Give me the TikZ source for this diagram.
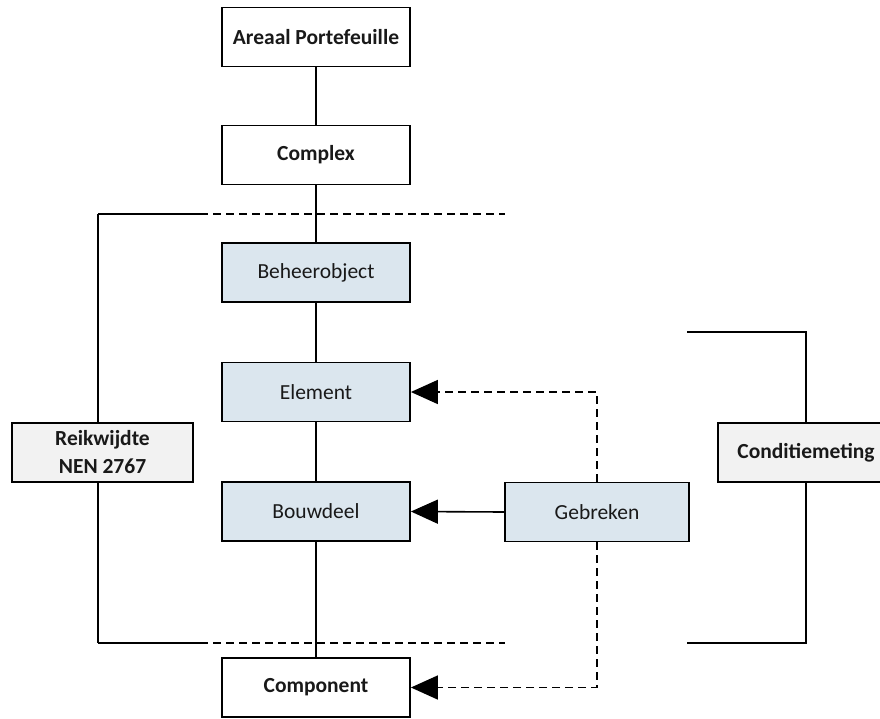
\documentclass[tikz,border=0pt]{standalone}
\usepackage{fontspec}
\setmainfont{Carlito}
\usetikzlibrary{arrows.meta}
\definecolor{boxblue}{RGB}{219,230,238}
\definecolor{boxgray}{RGB}{242,242,242}
\definecolor{txt}{RGB}{25,25,25}
\begin{document}
\begin{tikzpicture}[x=1pt, y=-1pt,
  box/.style={draw, line width=1.8pt, minimum width=188pt, minimum height=59pt, inner sep=0pt, text=txt, font=\fontsize{21.5}{28}\selectfont},
  bbox/.style={box, fill=white, font=\fontsize{21.5}{28}\selectfont\bfseries},
  lbox/.style={box, fill=boxblue},
  gbox/.style={box, fill=boxgray, align=center, font=\fontsize{21.5}{28}\selectfont\bfseries},
  ln/.style={line width=1.6pt},
  dsh/.style={ln, dash pattern=on 8pt off 5pt},
  tip/.style={-{Triangle[length=27pt,width=24pt]}}]
\useasboundingbox (0,0) rectangle (880,718);
\coordinate (lt) at (98,214);
\coordinate (lm) at (200,214);
\coordinate (le) at (505,214);
\coordinate (lb) at (98,643);
\coordinate (lbm) at (200,643);
\coordinate (lbe) at (505,643);
\coordinate (rt0) at (687,332);
\coordinate (rt1) at (806,332);
\coordinate (rb0) at (687,643);
\coordinate (rb1) at (806,643);
\draw[ln] (lt) -- (lm);
\draw[dsh] (lm) -- (le);
\draw[ln] (lb) -- (lbm);
\draw[dsh] (lbm) -- (lbe);
\node[bbox] (areaal) at (316,37) {Areaal Portefeuille};
\node[bbox] (complex) at (316,155) {Complex};
\node[lbox] (beheer) at (316,272.5) {Beheerobject};
\node[lbox] (element) at (316,392) {Element};
\node[lbox] (bouwdeel) at (316,511.5) {Bouwdeel};
\node[bbox] (component) at (316,687.5) {Component};
\node[lbox, minimum width=184pt] (gebreken) at (597,512) {Gebreken};
\node[gbox, minimum width=181pt] (reik) at (102.5,452.5) {Reikwijdte\\NEN 2767};
\node[gbox, minimum width=176pt] (conditie) at (806,452.5) {Conditiemeting};
\draw[ln] (areaal) -- (complex);
\draw[ln] (complex) -- (beheer);
\draw[ln] (beheer) -- (element);
\draw[ln] (element) -- (bouwdeel);
\draw[ln] (bouwdeel) -- (component);
\draw[ln] (lt) -- (reik.north -| lt);
\draw[ln] (reik.south -| lb) -- (lb);
\draw[ln] (rt0) -- (rt1) -- (conditie.north);
\draw[ln] (conditie.south) -- (rb1) -- (rb0);
\draw[ln, tip] (gebreken.west) -- (bouwdeel.east);
\draw[dsh, tip] (gebreken.north) |- (element.east);
\draw[dsh, tip] (gebreken.south) |- (component.east);
\end{tikzpicture}
\end{document}
